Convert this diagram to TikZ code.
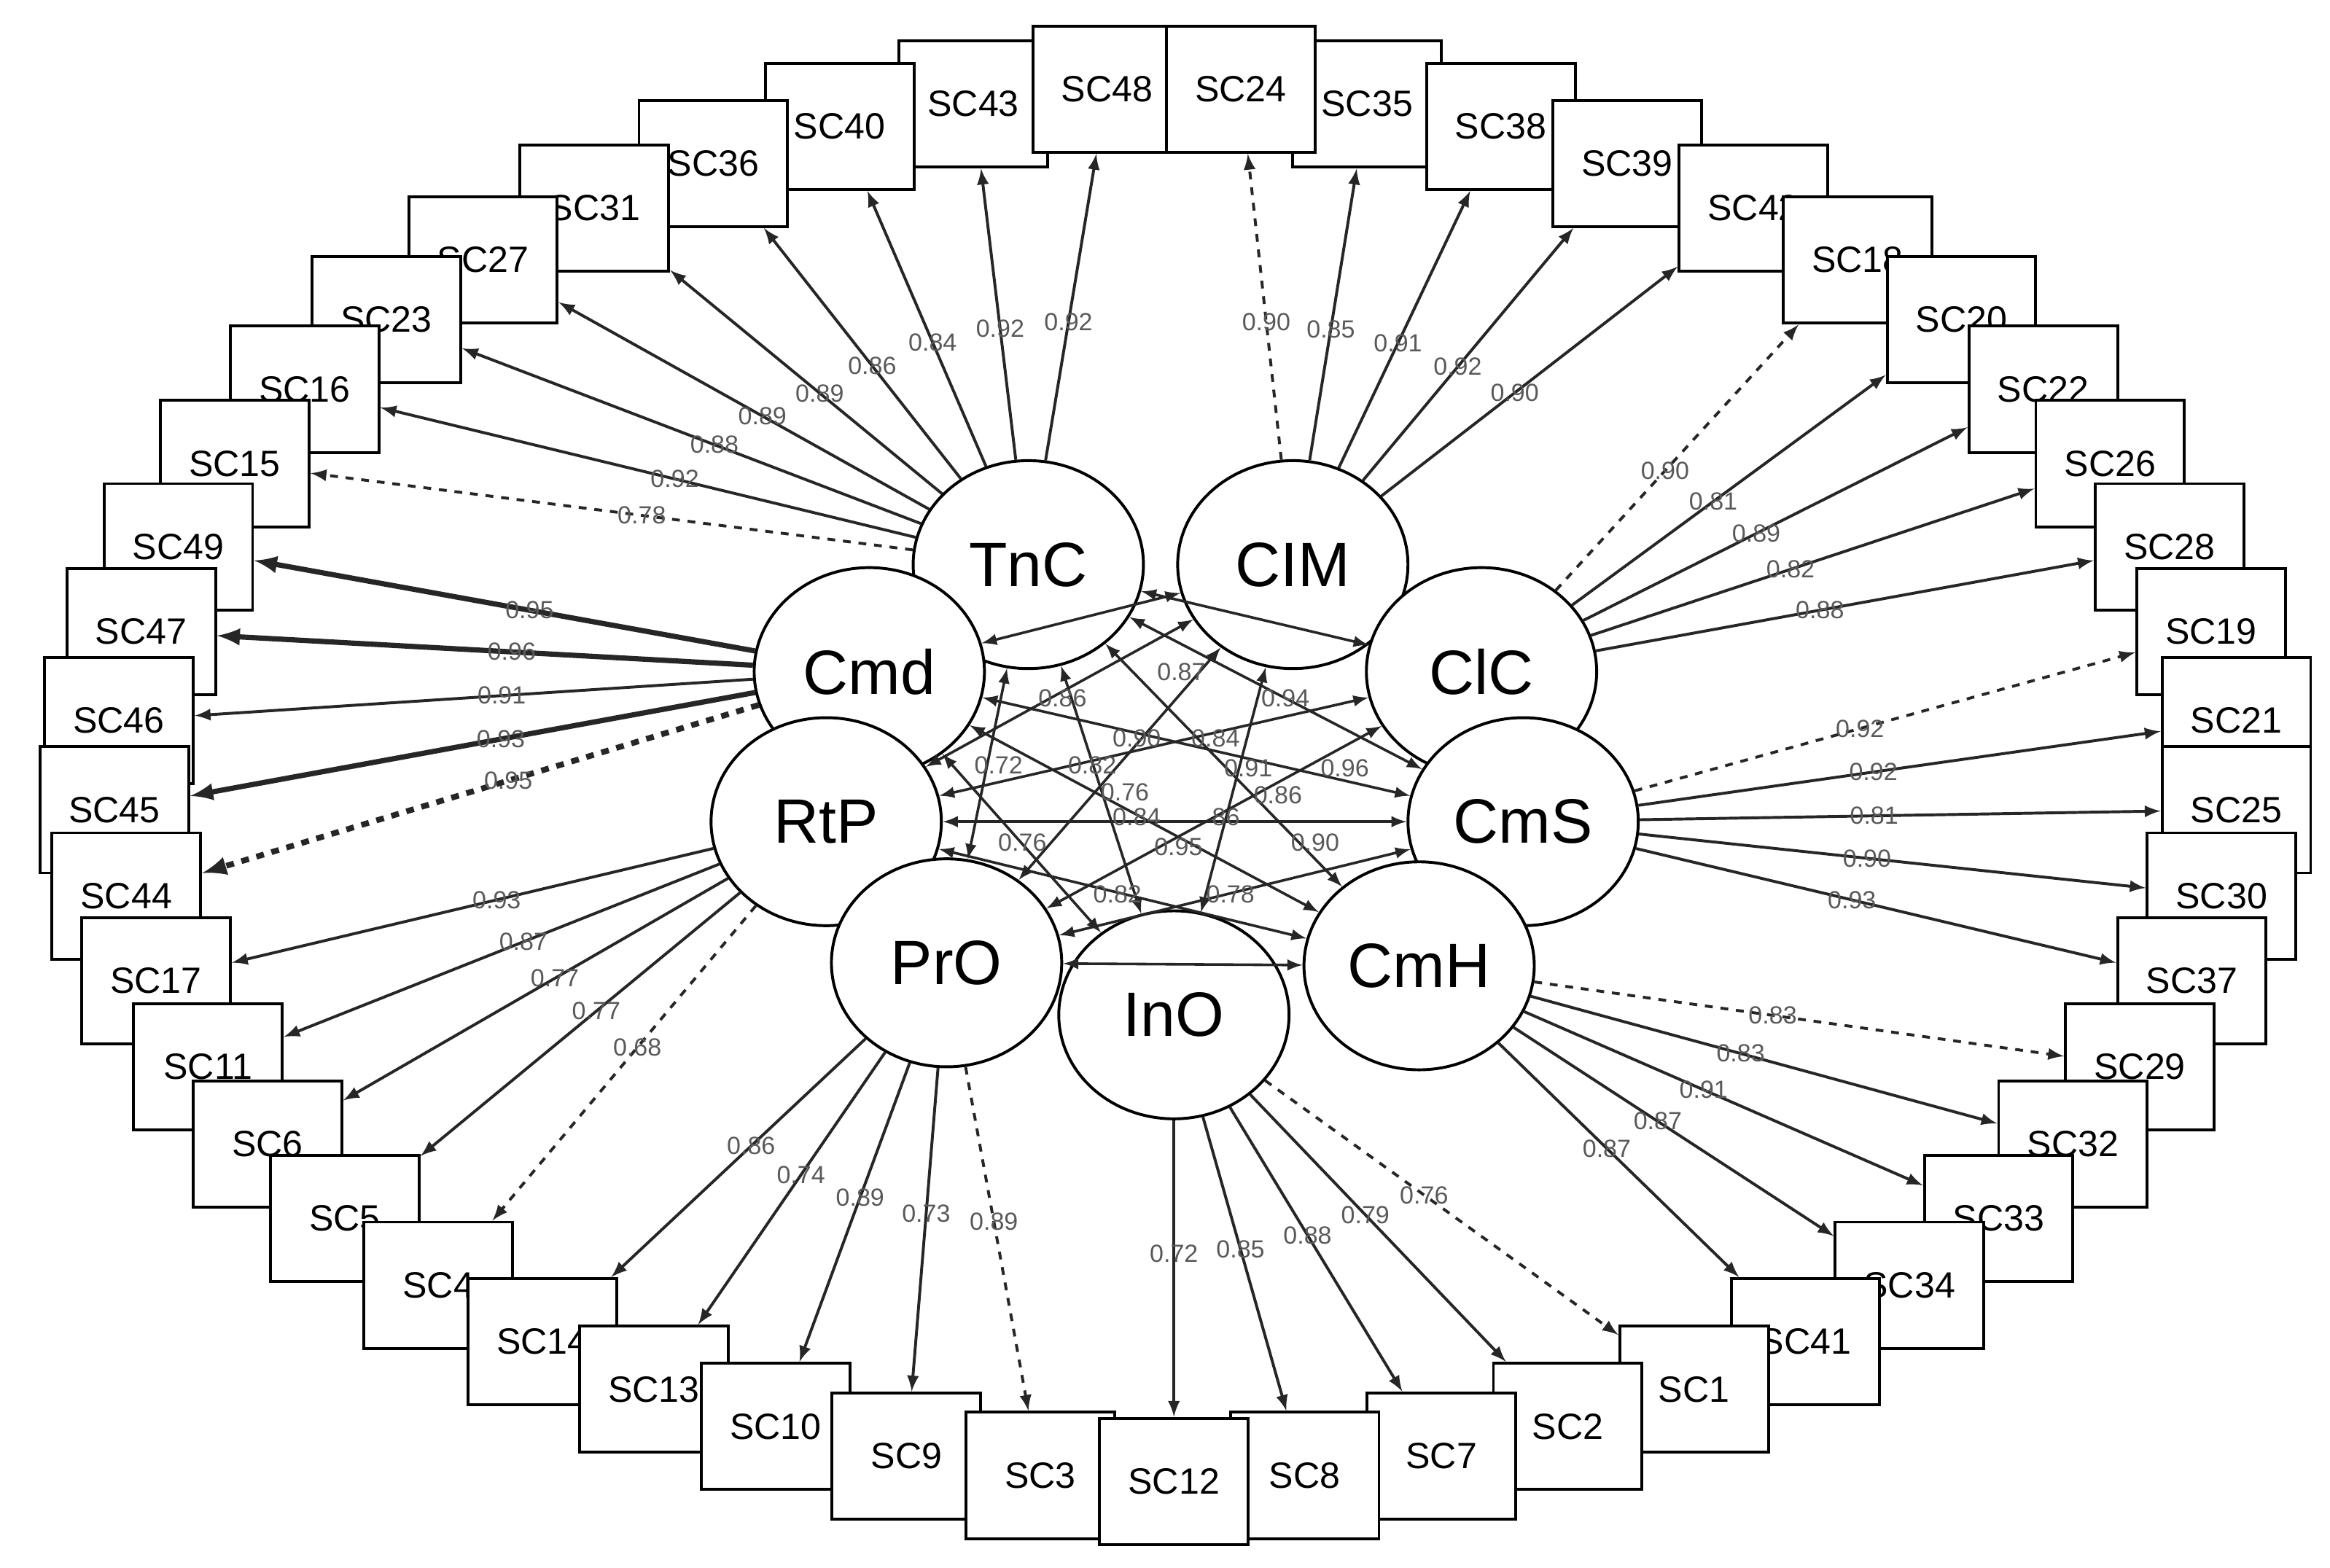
\documentclass[tikz,border=0pt]{standalone}
\usepackage{fontspec}
\setmainfont{Liberation Sans}
\usetikzlibrary{shapes.geometric}
\tikzset{
  Kasten/.style={draw,line width=1.1pt,fill=white,minimum width=2cm,minimum height=1.7cm,font=\fontsize{14}{16}\selectfont},
  Latent/.style={draw,line width=1.1pt,fill=white,ellipse,minimum width=3.1cm,minimum height=2.8cm,font=\fontsize{24}{27}\selectfont},
  Lad/.style={line width=1.1pt,->,draw=black!85}, % Ladungspfeile
  LadD/.style={Lad,dashed},
  LadT/.style={Lad,line width=2pt},
  LadTD/.style={LadT,dashed,line width=2.2pt},
  Wert/.style={font=\fontsize{9.5}{10}\selectfont,text=black!65,inner sep=1pt},
  Korr/.style={<->,draw=black!85,line width=1pt}
}
\begin{document}
\begin{tikzpicture}[x=0.02cm,y=-0.02cm,>=latex]
\useasboundingbox (0,0) rectangle (1568,1055);

%Indikatoren
\foreach \n/\x/\y in {43/655/70,40/565/85,36/480/110,31/400/140,27/325/175,23/260/215,16/205/262,15/158/312,
  49/120/368,47/95/425,46/80/485,45/77/545,44/85/603,17/105/660,11/140/718,6/180/770,5/232/820,4/295/865,
  14/365/903,13/440/935,10/522/960,9/610/980,3/700/993,
  35/920/70,38/1010/85,39/1095/110,42/1180/140,18/1250/175,20/1320/215,22/1375/262,26/1420/312,
  28/1460/368,19/1488/425,21/1505/485,25/1505/545,30/1495/603,37/1475/660,29/1440/718,32/1395/770,
  33/1345/820,34/1285/865,41/1215/903,1/1140/935,2/1055/960,7/970/980,8/878/993,12/790/997,48/745/60,24/835/60}
  \node[Kasten] (SC\n) at (\x,\y) {SC\n};

%Latente Variablen
\node[Latent] (TnC) at (692,380) {TnC};
\node[Latent] (CIM) at (870,380) {CIM};
\node[Latent] (ClC) at (997,452) {ClC};
\node[Latent] (Cmd) at (585,452) {Cmd};
\node[Latent] (CmS) at (1025,553) {CmS};
\node[Latent] (RtP) at (556,553) {RtP};
\node[Latent] (CmH) at (955,650) {CmH};
\node[Latent] (PrO) at (637,648) {PrO};
\node[Latent] (InO) at (790,683) {InO};

%Ladungen
\foreach \l/\i/\w/\s in {TnC/48/0.92/Lad,TnC/43/0.92/Lad,TnC/40/0.84/Lad,TnC/36/0.86/Lad,TnC/31/0.89/Lad,
  TnC/27/0.89/Lad,TnC/23/0.88/Lad,TnC/16/0.92/Lad,TnC/15/0.78/LadD,
  CIM/24/0.90/LadD,CIM/35/0.85/Lad,CIM/38/0.91/Lad,CIM/39/0.92/Lad,CIM/42/0.90/Lad,
  ClC/18/0.90/LadD,ClC/20/0.81/Lad,ClC/22/0.89/Lad,ClC/26/0.82/Lad,ClC/28/0.88/Lad,
  CmS/19/0.92/LadD,CmS/21/0.92/Lad,CmS/25/0.81/Lad,CmS/30/0.90/Lad,CmS/37/0.93/Lad,
  CmH/29/0.83/LadD,CmH/32/0.83/Lad,CmH/33/0.91/Lad,CmH/34/0.87/Lad,CmH/41/0.87/Lad,
  InO/1/0.76/LadD,InO/2/0.79/Lad,InO/7/0.88/Lad,InO/8/0.85/Lad,InO/12/0.72/Lad,
  PrO/3/0.89/LadD,PrO/9/0.73/Lad,PrO/10/0.89/Lad,PrO/13/0.74/Lad,PrO/14/0.86/Lad,
  RtP/4/0.68/LadD,RtP/5/0.77/Lad,RtP/6/0.77/Lad,RtP/11/0.87/Lad,RtP/17/0.93/Lad,
  Cmd/44/0.95/LadTD,Cmd/45/0.93/LadT,Cmd/46/0.91/Lad,Cmd/47/0.96/LadT,Cmd/49/0.95/LadT}
  \draw[\s] (\l) -- node[Wert,pos=0.45]{\w} (SC\i);

%Korrelationen
\foreach \a/\b in {TnC/ClC,TnC/CmS,TnC/CmH,TnC/InO,TnC/PrO,CIM/Cmd,CIM/RtP,CIM/PrO,CIM/InO,
  ClC/RtP,ClC/PrO,Cmd/CmS,Cmd/CmH,RtP/CmS,PrO/CmS,PrO/CmH,Cmd/InO,RtP/CmH}
  \draw[Korr] (\a) -- (\b);
\foreach \w/\x/\y in {0.87/795/452,0.86/715/470,0.94/865/470,0.90/765/497,0.84/818/497,0.72/672/515,
  0.82/735/515,0.91/840/517,0.96/905/517,0.76/757/533,0.86/860/535,0.84/765/550,86/825/550,
  0.76/688/567,0.95/793/570,0.90/885/567,0.82/752/602,0.78/828/602}
  \node[Wert] (k\x\y) at (\x,\y) {\w};
\end{tikzpicture}
\end{document}
